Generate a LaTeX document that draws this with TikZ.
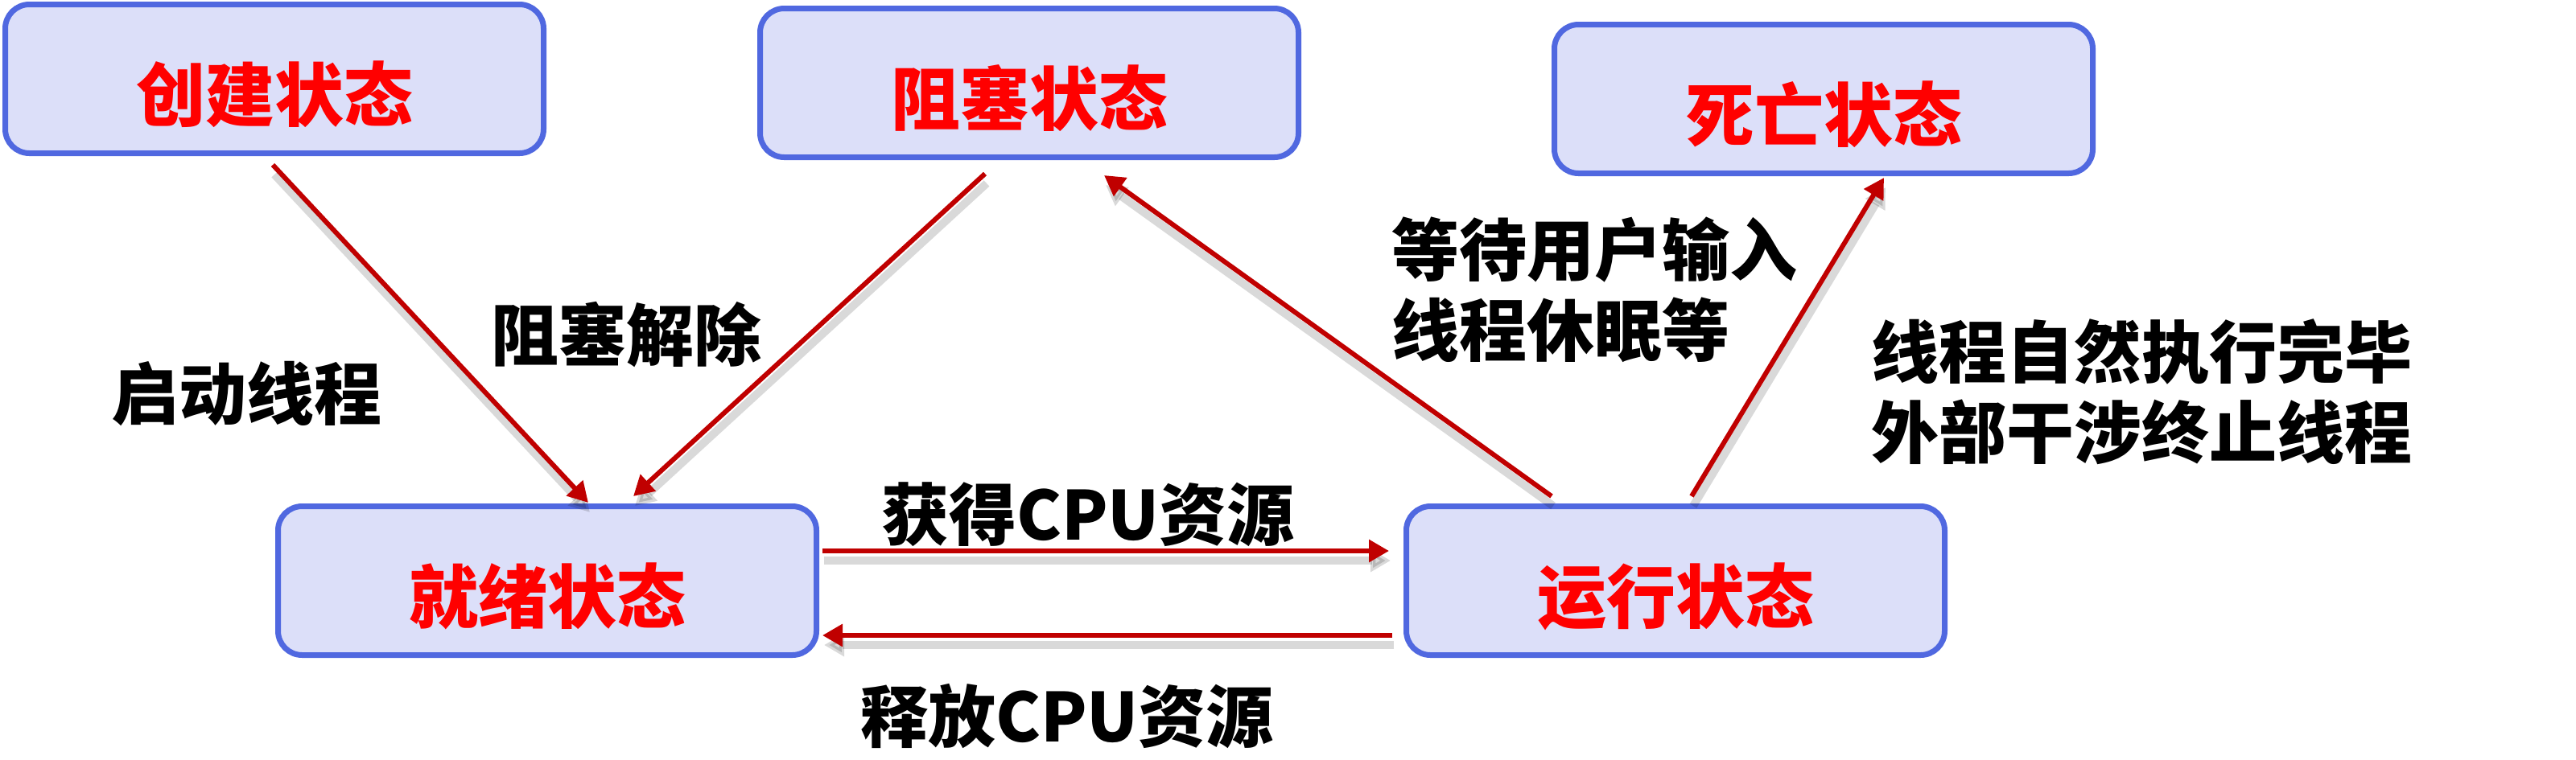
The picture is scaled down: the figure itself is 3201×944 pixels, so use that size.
\documentclass[tikz,border=0pt]{standalone}
\usepackage{fontspec}
\setmainfont{Noto Sans CJK SC}
\usetikzlibrary{arrows.meta,calc}
\definecolor{boxline}{HTML}{5068E0}
\definecolor{boxfill}{HTML}{DCDFF9}
\definecolor{arrred}{HTML}{C00000}
\definecolor{txtred}{HTML}{FF0000}
\newcommand\conn[2]{%
  \draw[shd,transform canvas={shift={(2,12)}}] #1 -- #2;
  \draw[arr] #1 -- #2;}
\begin{document}
\begin{tikzpicture}[x=0.25pt,y=-0.25pt,
  state/.style={draw=boxline, fill=boxfill, line width=1.75pt, rounded corners=7.5pt,
    minimum width=167.25pt, minimum height=46.25pt, inner sep=0pt,
    font=\fontsize{21.5}{25}\selectfont\bfseries, text=txtred,
    text height=26.3pt, text depth=0pt},
  lbl/.style={font=\fontsize{21}{25}\selectfont\bfseries, inner sep=0pt, align=left},
  arr/.style={draw=arrred, line width=1.5pt, -{Triangle[length=6.25pt,width=6.75pt]}},
  shd/.style={draw=black, draw opacity=0.15, fill opacity=0.15, line width=2.5pt,
    -{Triangle[length=6.25pt,width=6.75pt]}},
]
\useasboundingbox (0,0) rectangle (3201,944);
\fill[white] (0,0) rectangle (3201,944);

\node[state] (create) at (341,98) {创建状态};
\node[state] (block) at (1279,103) {阻塞状态};
\node[state] (dead) at (2266,123) {死亡状态};
\node[state] (ready) at (680,722) {就绪状态};
\node[state] (run) at (2082,722) {运行状态};

\node[lbl] (l1) at (306,490) {启动线程};
\node[lbl] (l2) at (778,416) {阻塞解除};
\node[lbl] (l3) at (1352,640) {获得CPU资源};
\node[lbl] (l4) at (1326,890) {释放CPU资源};
\node[lbl, anchor=west] (l5) at (1729,360) {等待用户输入\\线程休眠等};
\node[lbl, anchor=west] (l6) at (2325,487) {线程自然执行完毕\\外部干涉终止线程};

\conn{($(create.south)+(-2,11)$)}{($(ready.north)+(51,-1)$)}
\conn{($(block.south)+(-55,17)$)}{($(ready.north)+(107,-9)$)}
\conn{($(run.north)+(-154,-9)$)}{($(block.south)+(93,19)$)}
\conn{($(run.north)+(20,-9)$)}{($(dead.south)+(75,2)$)}
\conn{($(ready.east)+(4,-37)$)}{($(run.west)+(-18,-37)$)}
\conn{($(run.west)+(-14,68)$)}{($(ready.east)+(4,68)$)}
\end{tikzpicture}
\end{document}
